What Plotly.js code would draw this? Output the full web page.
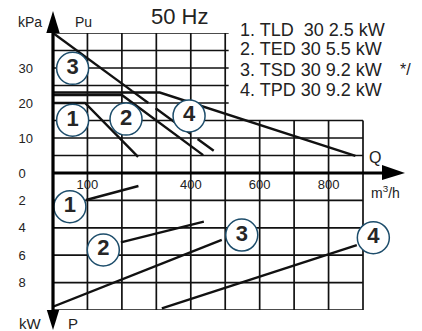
<!DOCTYPE html>
<html>
<head>
<meta charset="utf-8">
<script src="https://cdn.plot.ly/plotly-3.0.1.min.js"></script>
<style>html,body{margin:0;padding:0;background:#fff;}#chart{width:422px;height:331px;}</style>
</head>
<body>
<div id="chart"></div>
<script>
// ---- data ----
const qTicks = [0, 100, 200, 300, 400, 500, 600, 700, 800, 900];
const qTickText = ['', '100', '', '', '400', '', '600', '', '800', ''];
const kPaTicks = [0, 5, 10, 15, 20, 25, 30, 35, 40];
const kPaTickText = ['0\u2007', '', '10', '', '20', '', '30', '', ''];
const kWTicks = [0, 2, 4, 6, 8, 10];
const kWTickText = ['', '2\u2007', '4\u2007', '6\u2007', '8\u2007', ''];

// pressure curves (Q m3/h, kPa)
const pQ1 = [0, 93, 247];   const pP1 = [20, 20, 4.6];
const pQ2 = [0, 200, 436];  const pP2 = [22.3, 22.3, 5.1];
const pQ3 = [0, 230, 484];  const pP3 = [40, 23.4, 5.1];   // solid to 2nd point, dashed after
const pQ4 = [0, 310, 878];  const pP4 = [23, 23, 4.9];

// power curves (Q m3/h, kW)
const wQ1 = [96, 248];  const wP1 = [1.97, 0.95];
const wQ2 = [197, 438]; const wP2 = [5.06, 3.55];
const wQ3 = [0, 490];   const wP3 = [9.76, 4.89];
const wQ4 = [316, 882]; const wP4 = [9.88, 5.26];

// circled curve numbers
const curveLabels = ['1', '2', '3', '4'];
const topLabelQ = [57, 212, 57, 395];
const topLabelP = [15.1, 15.4, 29.9, 16.3];
const botLabelQ = [49, 146, 548, 930];
const botLabelP = [2.46, 5.62, 4.53, 4.72];

const legendLines = ['1. TLD\u00a0 30 2.5 kW', '2. TED 30 5.5 kW', '3. TSD 30 9.2 kW', '4. TPD 30 9.2 kW'];

// ---- styling / geometry ----
const FONT = 'Liberation Sans, Arial, Helvetica, sans-serif';
const INK = '#111';
const TXT = '#222';
const GRIDW = 1.7;
const CURVEW = 2.4;
const QMAX = 900, QVIEW = 990;     // grid ends at 900; a little room right of it for the "4" circle
const ML = 53, MR = 28, MT = 33, MB = 21, W = 422, H = 331;
const PW = W - ML - MR, PH = H - MT - MB;
const PX = px => (px - ML) / PW;           // pixel -> paper (x)
const PY = py => (H - MB - py) / PH;       // pixel -> paper (y)

function curve(x, y, axes, dash) {
  return {type: 'scatter', mode: 'lines', x: x, y: y, xaxis: axes[0], yaxis: axes[1],
          line: {color: INK, width: CURVEW, dash: dash || 'solid'}, hoverinfo: 'skip'};
}
function circles(x, y, axes) {
  return {type: 'scatter', mode: 'markers+text', x: x, y: y, text: curveLabels,
          xaxis: axes[0], yaxis: axes[1], cliponaxis: false, hoverinfo: 'skip',
          textposition: 'middle center',
          textfont: {family: FONT, size: 22, color: '#262626', weight: 700},
          marker: {symbol: 'circle', size: 32, color: '#fff', line: {color: '#1d4d6b', width: 1.5}}};
}

const AX_TOP = ['x', 'y'], AX_BOT = ['x2', 'y2'];
const traces = [
  curve(pQ1, pP1, AX_TOP),
  curve(pQ2, pP2, AX_TOP),
  curve(pQ3.slice(0, 2), pP3.slice(0, 2), AX_TOP),
  curve(pQ3.slice(1), pP3.slice(1), AX_TOP, '20px,9px,43px,9px'),
  curve(pQ4, pP4, AX_TOP),
  curve(wQ1, wP1, AX_BOT),
  curve(wQ2, wP2, AX_BOT),
  curve(wQ3, wP3, AX_BOT),
  curve(wQ4, wP4, AX_BOT),
  circles(topLabelQ, topLabelP, AX_TOP),
  circles(botLabelQ, botLabelP, AX_BOT)
];

// grids as shapes on the axes (top panel leaves the legend corner empty)
const shapes = [];
function gridLine(xr, yr, x0, x1, y0, y1) {
  shapes.push({type: 'line', xref: xr, yref: yr, layer: 'below', x0: x0, x1: x1, y0: y0, y1: y1,
               line: {color: INK, width: GRIDW}});
}
kPaTicks.forEach(v => { if (v > 0) gridLine('x', 'y', 0, v >= 20 ? 510 : QMAX, v, v); });
qTicks.forEach(q => gridLine('x', 'y', q, q, 0, q <= 500 ? 40 : 15));
kWTicks.forEach(v => { if (v > 0) gridLine('x2', 'y2', 0, QMAX, v, v); });
qTicks.forEach(q => gridLine('x2', 'y2', q, q, 0, 10));

const SPLIT = PY(173); // shared axis position (paper)
// thick axes with arrow heads
shapes.push({type: 'line', xref: 'paper', yref: 'paper', x0: 0, x1: 0, y0: PY(313), y1: PY(30), line: {color: '#000', width: 3.2}});
shapes.push({type: 'line', xref: 'paper', yref: 'paper', x0: 0, x1: PX(385), y0: SPLIT, y1: SPLIT, line: {color: '#000', width: 3}});
function tri(a, b, c) {
  return {type: 'path', xref: 'paper', yref: 'paper', fillcolor: '#000', line: {width: 0},
          path: 'M ' + PX(a[0]) + ' ' + PY(a[1]) + ' L ' + PX(b[0]) + ' ' + PY(b[1]) + ' L ' + PX(c[0]) + ' ' + PY(c[1]) + ' Z'};
}
shapes.push(tri([46.3, 33], [59.7, 33], [53, 11]));
shapes.push(tri([46.8, 310], [59.2, 310], [53, 330]));
shapes.push(tri([382, 165], [382, 180], [405, 173]));

function note(text, px, py, size, anchor) {
  return {text: text, x: PX(px), y: PY(py), xref: 'paper', yref: 'paper', showarrow: false,
          xanchor: anchor || 'center', yanchor: 'middle', font: {family: FONT, size: size, color: TXT}};
}
const legendPy = [30, 49.5, 69.5, 90];
const annotations = [
  note('kPa', 30, 22, 14),
  note('Pu', 83, 22, 14),
  note('50 Hz', 179, 16, 22),
  note('*/', 405, 69.5, 16),
  note('Q', 375, 157, 16),
  note('m<sup>3</sup>/h', 385, 192, 14),
  note('kW', 30, 323, 15),
  note('P', 73, 323, 15)
].concat(legendLines.map((t, i) => note(t, 238, legendPy[i], 18, 'left')));

const tickFont = {family: FONT, size: 13, color: TXT};
const layout = {
  width: W, height: H,
  margin: {l: ML, r: MR, t: MT, b: MB},
  paper_bgcolor: '#fff', plot_bgcolor: '#fff',
  showlegend: false,
  xaxis: {domain: [0, 1], range: [0, QVIEW], anchor: 'y', tickmode: 'array', tickvals: qTicks, ticktext: qTickText,
          showgrid: false, zeroline: false, showline: false, ticks: '', tickfont: tickFont, ticklabelstandoff: 2, fixedrange: true},
  xaxis2: {domain: [0, 1], range: [0, QVIEW], anchor: 'y2', matches: 'x', showticklabels: false, showgrid: false,
           zeroline: false, showline: false, ticks: '', fixedrange: true},
  yaxis: {domain: [SPLIT, 1], range: [0, 40], anchor: 'x', tickmode: 'array', tickvals: kPaTicks, ticktext: kPaTickText,
          showgrid: false, zeroline: false, showline: false, ticks: '', tickfont: tickFont, ticklabelstandoff: 19, fixedrange: true},
  yaxis2: {domain: [0, SPLIT], range: [10, 0], anchor: 'x2', tickmode: 'array', tickvals: kWTicks, ticktext: kWTickText,
           showgrid: false, zeroline: false, showline: false, ticks: '', tickfont: tickFont, ticklabelstandoff: 19, fixedrange: true},
  shapes: shapes,
  annotations: annotations
};

Plotly.newPlot('chart', traces, layout, {staticPlot: true, displayModeBar: false});
</script>
</body>
</html>
